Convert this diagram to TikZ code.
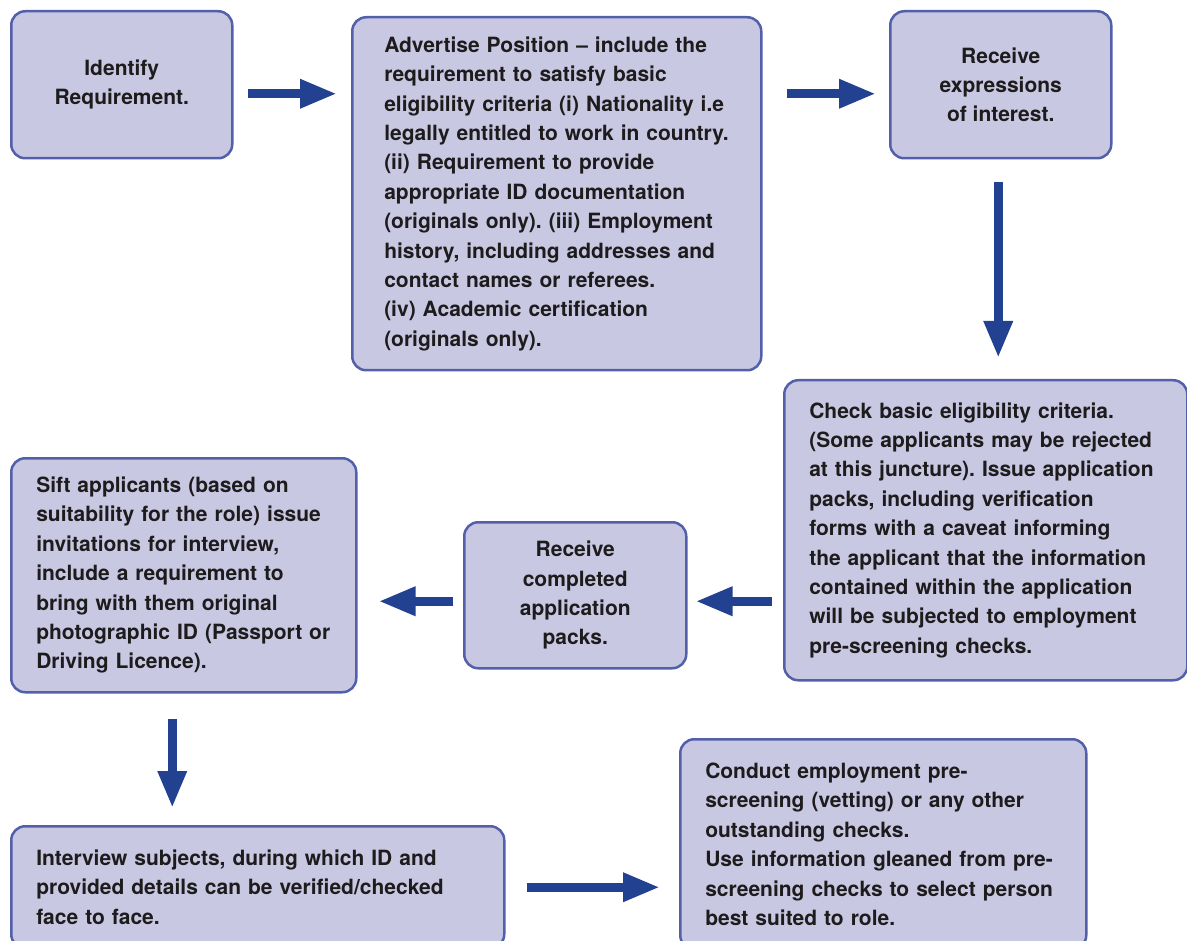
\documentclass[tikz,border=0pt]{standalone}
\usepackage{fontspec}
\setmainfont{TeX Gyre Heros}
\usetikzlibrary{arrows.meta}
\frenchspacing
\definecolor{boxfill}{RGB}{200,200,227}
\definecolor{boxline}{RGB}{82,96,170}
\definecolor{flowcol}{RGB}{35,65,145}
\definecolor{inkcol}{RGB}{30,27,28}
\tikzset{
  stepbox/.style={draw=boxline, fill=boxfill, line width=2.5pt, rounded corners=14pt,
    inner ysep=0pt, anchor=north west, text=inkcol,
    font=\fontsize{21}{29.4}\selectfont\bfseries},
  % left-aligned text block: #1 = box width, #2 = left padding
  textbox/.style 2 args={stepbox, align=left, inner xsep=#2, text width=#1-2*#2},
  flow/.style={draw=flowcol, line width=9pt,
    -{Triangle[length=37pt,width=27pt]}},
}
\begin{document}
\begin{tikzpicture}[x=1pt,y=-1pt]
\useasboundingbox (0,0) rectangle (1187,941);
\clip (0,0) rectangle (1187,941);

% process steps
\node[stepbox, inner xsep=0pt, minimum width=221, minimum height=147, align=center] (n1) at (10,10)
  {Identify\\Requirement.};
\node[textbox={409}{32}, minimum height=353] (n2) at (351,16)
  {Advertise Position -- include the\\
   requirement to satisfy basic\\
   eligibility criteria (i) Nationality i.e\\
   legally entitled to work in country.\\
   (ii) Requirement to provide\\
   appropriate ID documentation\\
   (originals only). (iii) Employment\\
   history, including addresses and\\
   contact names or referees.\\
   (iv) Academic certification\\
   (originals only).};
\node[stepbox, inner xsep=0pt, minimum width=221, minimum height=147, align=center] (n3) at (889,10)
  {Receive\\expressions\\of interest.};
\node[textbox={403}{25}, minimum height=300] (n4) at (783,379)
  {Check basic eligibility criteria.\\
   (Some applicants may be rejected\\
   at this juncture). Issue application\\
   packs, including verification\\
   forms with a caveat informing\\
   the applicant that the information\\
   contained within the application\\
   will be subjected to employment\\
   pre-screening checks.};
\node[stepbox, inner xsep=0pt, minimum width=222, minimum height=146, align=center] (n5) at (463,521)
  {Receive\\completed\\application\\packs.};
\node[textbox={345}{25}, minimum height=234] (n6) at (10,457)
  {Sift applicants (based on\\
   suitability for the role) issue\\
   invitations for interview,\\
   include a requirement to\\
   bring with them original\\
   photographic ID (Passport or\\
   Driving Licence).};
\node[textbox={493}{25}, minimum height=122] (n7) at (10,825)
  {Interview subjects, during which ID and\\
   provided details can be verified/checked\\
   face to face.};
\node[textbox={406}{25}, minimum height=210] (n8) at (679,738)
  {Conduct employment pre-\\
   screening (vetting) or any other\\
   outstanding checks.\\
   Use information gleaned from pre-\\
   screening checks to select person\\
   best suited to role.};

% connectors
\draw[flow, shorten <=14pt, shorten >=14pt]
  ([yshift=-9pt]n1.east) -- ([yshift=-9pt]n1.east -| n2.west);
\draw[flow, shorten <=24pt, shorten >=13pt]
  ([yshift=-9pt]n3.west -| n2.east) -- ([yshift=-9pt]n3.west);
\draw[flow, shorten <=23pt, shorten >=21pt]
  ([xshift=-2.5pt]n3.south) -- ([xshift=-2.5pt]n3.south |- n4.north);
\draw[flow, shorten <=11pt, shorten >=8pt]
  ([yshift=-6pt]n5.east -| n4.west) -- ([yshift=-6pt]n5.east);
\draw[flow, shorten <=10pt, shorten >=21pt]
  ([yshift=-6pt]n5.west) -- ([yshift=-6pt]n5.west -| n6.east);
\draw[flow, shorten <=25pt, shorten >=17pt]
  ([xshift=-11.5pt]n6.south) -- ([xshift=-11.5pt]n6.south |- n7.north);
\draw[flow, shorten <=21pt, shorten >=19pt]
  (n7.east) -- (n7.east -| n8.west);
\end{tikzpicture}
\end{document}
